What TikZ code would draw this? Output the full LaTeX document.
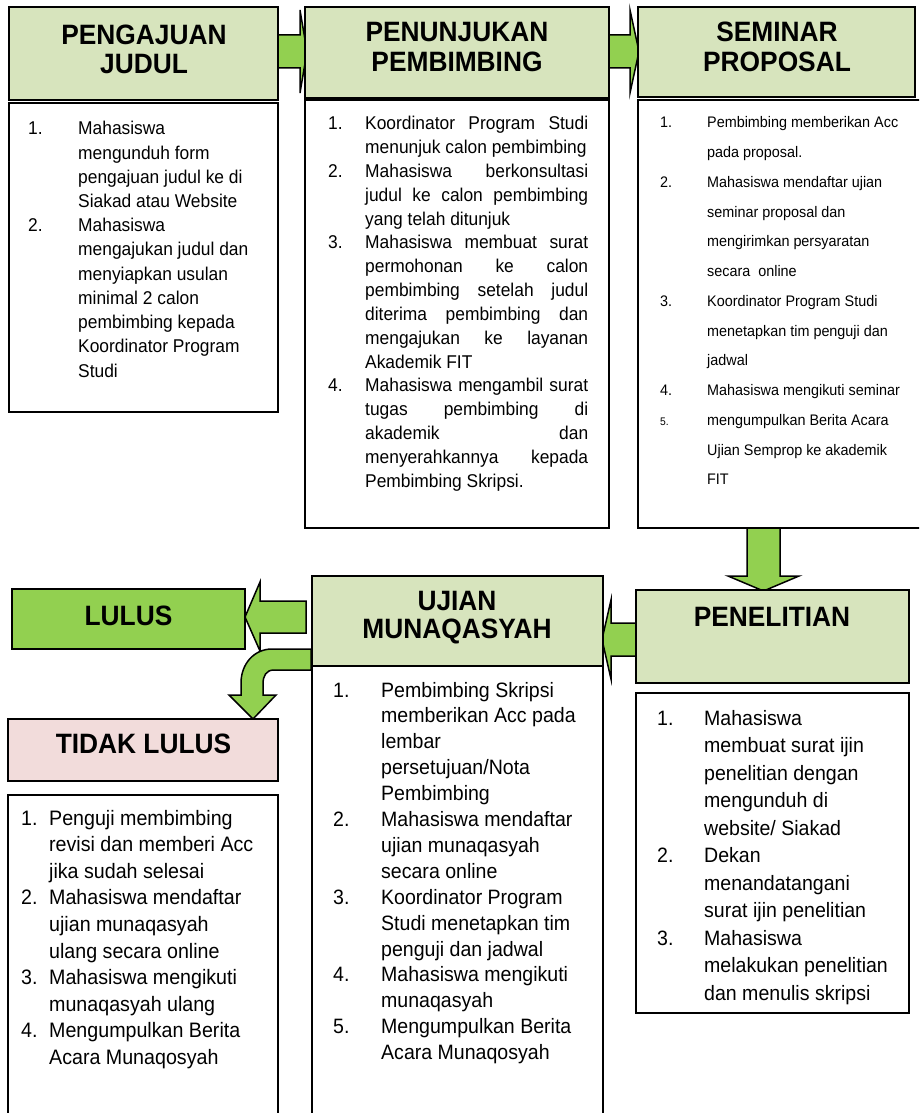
\documentclass[tikz,border=0pt]{standalone}
\usepackage{fontspec}
\setmainfont[FakeStretch=0.94]{Liberation Sans}
\definecolor{hdrg}{HTML}{D7E4BD}
\definecolor{arrg}{HTML}{92D050}
\definecolor{pinkc}{HTML}{F2DCDB}
\newlength\numw
\newlength\txw
\newenvironment{lst}[1]{\setlength\numw{#1}\begin{tabular}[t]{@{}l@{}l@{}}}{\end{tabular}}
\newcommand\nm[1]{\makebox[\numw][l]{#1}}
\newcommand\jl[1]{\makebox[\txw][s]{#1}}
\tikzset{
  box/.style={draw=black, line width=1.5pt, inner sep=0pt, outer sep=0pt, anchor=north west},
  hdrbox/.style={box, fill=hdrg, line width=2pt},
  bodybox/.style={box, fill=white},
  htext/.style={anchor=base, inner sep=0pt, font=\fontsize{28}{29}\selectfont\bfseries},
  btext/.style={anchor=base west, inner sep=0pt},
  blockarrow/.style={fill=arrg, draw=black, line width=1.5pt, line join=miter},
}
\begin{document}
\begin{tikzpicture}[x=1pt,y=-1pt]
\useasboundingbox (0,0) rectangle (919,1113);
\clip (0,0) rectangle (919,1113);
% block arrows
\draw[blockarrow] (278,35) -- (300,35) -- (300,10) -- (307,51.5) -- (300,93) -- (300,68) -- (278,68) -- cycle;
\draw[blockarrow] (609,35) -- (630,35) -- (630,10) -- (639,51.5) -- (630,93) -- (630,68) -- (609,68) -- cycle;
\draw[blockarrow] (747,528) -- (780,528) -- (780,576) -- (799,576) -- (763.5,591) -- (728,576) -- (747,576) -- cycle;
\draw[blockarrow] (636,623) -- (611,623) -- (611,600) -- (602,639.5) -- (611,679) -- (611,656) -- (636,656) -- cycle;
\draw[blockarrow] (306,601) -- (260,601) -- (260,582) -- (245,617) -- (260,651) -- (260,633) -- (306,633) -- cycle;
\draw[blockarrow] (311,649) -- (272,649) .. controls (254,649) and (241,664) .. (241,683) -- (241,695) -- (229,695) -- (253,719) -- (276,695) -- (263,695) -- (263,684) .. controls (263,676) and (266,670) .. (274,670) -- (311,670) -- cycle;
% boxes
\node[hdrbox, minimum width=269pt, minimum height=93pt] (h1) at (9,7) {};
\node[bodybox, minimum width=269pt, minimum height=309pt] (b1) at (9,103) {};
\node[hdrbox, minimum width=304pt, minimum height=91pt] (h2) at (305,7) {};
\node[bodybox, minimum width=304pt, minimum height=428pt] (b2) at (305,100) {};
\node[hdrbox, minimum width=277pt, minimum height=90pt] (h3) at (638,7) {};
\node[bodybox, minimum width=283pt, minimum height=428pt] (b3) at (638,100) {};
\node[hdrbox, minimum width=273pt, minimum height=93pt] (h4) at (636,590) {};
\node[bodybox, minimum width=273pt, minimum height=320pt] (b4) at (636,693) {};
\node[hdrbox, minimum width=291pt, minimum height=90pt] (h5) at (312,576) {};
\node[bodybox, minimum width=291pt, minimum height=450pt] (b5) at (312,666) {};
\node[box, fill=arrg, line width=2pt, minimum width=233pt, minimum height=60pt] (h6) at (12,589) {};
\node[box, fill=pinkc, line width=2pt, minimum width=270pt, minimum height=62pt] (h7) at (8,719) {};
\node[bodybox, minimum width=270pt, minimum height=330pt] (b7) at (8,795) {};
% header texts
\node[htext] (t1a) at (144,45) {PENGAJUAN};
\node[htext] (t1b) at (144,74) {JUDUL};
\node[htext] (t2a) at (457,42) {PENUNJUKAN};
\node[htext] (t2b) at (457,72) {PEMBIMBING};
\node[htext] (t3a) at (777,42) {SEMINAR};
\node[htext] (t3b) at (777,72) {PROPOSAL};
\node[htext] (t4a) at (772,626) {PENELITIAN};
\node[htext] (t5a) at (457,610) {UJIAN};
\node[htext] (t5b) at (457,638) {MUNAQASYAH};
\node[htext] (t6a) at (128.5,625) {LULUS};
\node[htext] (t7a) at (143.5,753) {TIDAK LULUS};
% body texts
\node[btext, font=\fontsize{18.5}{24.2}\selectfont] (x1) at (28,135) {\begin{lst}{50pt}
\nm{1.}&Mahasiswa\\
&mengunduh form\\
&pengajuan judul ke di\\
&Siakad atau Website\\
\nm{2.}&Mahasiswa\\
&mengajukan judul dan\\
&menyiapkan usulan\\
&minimal 2 calon\\
&pembimbing kepada\\
&Koordinator Program\\
&Studi
\end{lst}};
\node[btext, font=\fontsize{18.5}{23.8}\selectfont] (x2) at (328,130) {\setlength\txw{223pt}\begin{lst}{37pt}
\nm{1.}&\jl{Koordinator Program Studi}\\
&menunjuk calon pembimbing\\
\nm{2.}&\jl{Mahasiswa berkonsultasi}\\
&\jl{judul ke calon pembimbing}\\
&yang telah ditunjuk\\
\nm{3.}&\jl{Mahasiswa membuat surat}\\
&\jl{permohonan ke calon}\\
&\jl{pembimbing setelah judul}\\
&\jl{diterima pembimbing dan}\\
&\jl{mengajukan ke layanan}\\
&Akademik FIT\\
\nm{4.}&\jl{Mahasiswa mengambil surat}\\
&\jl{tugas pembimbing di}\\
&\jl{akademik dan}\\
&\jl{menyerahkannya kepada}\\
&Pembimbing Skripsi.
\end{lst}};
\node[btext, font=\fontsize{15.3}{29.75}\selectfont] (x3) at (660,128) {\begin{lst}{47pt}
\nm{1.}&Pembimbing memberikan Acc\\
&pada proposal.\\
\nm{2.}&Mahasiswa mendaftar ujian\\
&seminar proposal dan\\
&mengirimkan persyaratan\\
&secara\ \ online\\
\nm{3.}&Koordinator Program Studi\\
&menetapkan tim penguji dan\\
&jadwal\\
\nm{4.}&Mahasiswa mengikuti seminar\\
\nm{{\fontsize{11}{11}\selectfont 5.}}&mengumpulkan Berita Acara\\
&Ujian Semprop ke akademik\\
&FIT
\end{lst}};
\node[btext, font=\fontsize{20.8}{27.5}\selectfont] (x4) at (657,725) {\begin{lst}{47pt}
\nm{1.}&Mahasiswa\\
&membuat surat ijin\\
&penelitian dengan\\
&mengunduh di\\
&website/ Siakad\\
\nm{2.}&Dekan\\
&menandatangani\\
&surat ijin penelitian\\
\nm{3.}&Mahasiswa\\
&melakukan penelitian\\
&dan menulis skripsi
\end{lst}};
\node[btext, font=\fontsize{20.8}{25.9}\selectfont] (x5) at (333,697) {\begin{lst}{48pt}
\nm{1.}&Pembimbing Skripsi\\
&memberikan Acc pada\\
&lembar\\
&persetujuan/Nota\\
&Pembimbing\\
\nm{2.}&Mahasiswa mendaftar\\
&ujian munaqasyah\\
&secara online\\
\nm{3.}&Koordinator Program\\
&Studi menetapkan tim\\
&penguji dan jadwal\\
\nm{4.}&Mahasiswa mengikuti\\
&munaqasyah\\
\nm{5.}&Mengumpulkan Berita\\
&Acara Munaqosyah
\end{lst}};
\node[btext, font=\fontsize{20.9}{26.6}\selectfont] (x7) at (21,825) {\begin{lst}{28pt}
\nm{1.}&Penguji membimbing\\
&revisi dan memberi Acc\\
&jika sudah selesai\\
\nm{2.}&Mahasiswa mendaftar\\
&ujian munaqasyah\\
&ulang secara online\\
\nm{3.}&Mahasiswa mengikuti\\
&munaqasyah ulang\\
\nm{4.}&Mengumpulkan Berita\\
&Acara Munaqosyah
\end{lst}};
\end{tikzpicture}
\end{document}
